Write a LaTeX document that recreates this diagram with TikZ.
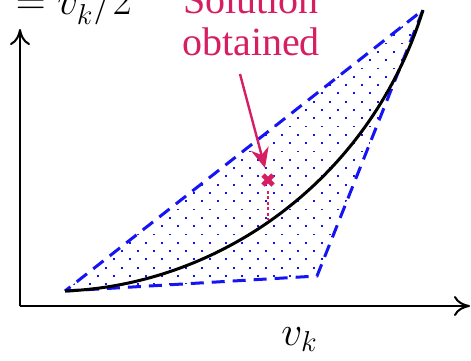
\documentclass[tikz,border=0pt]{standalone}
\usepackage{fontspec}
\setmainfont{Liberation Serif}
\usetikzlibrary{arrows.meta}
\definecolor{crim}{RGB}{214,30,98}
\definecolor{pblue}{RGB}{20,20,245}
\tikzset{
  axis/.style={line width=1pt,-{To[length=8pt,width=10pt,line width=1pt]}},
  bound/.style={pblue,line width=1.5pt,dash pattern=on 6.5pt off 4pt},
  curve/.style={black,line width=1.5pt},
  big/.style={font=\fontsize{20}{21}\selectfont,inner sep=0pt},
}
\begin{document}
\begin{tikzpicture}[x=0.5pt,y=-0.5pt]
\useasboundingbox (0,0) rectangle (471,360);
\clip (0,0) rectangle (471,360);
% region
\coordinate (A) at (65,291);
\coordinate (B) at (317,276);
\coordinate (C) at (423,10);
\begin{scope}
\clip (A) -- (B) -- (C) -- cycle;
\foreach \j in {0,...,40}{
  \foreach \i in {0,...,28}{
    \pgfmathsetmacro{\xx}{58+16*\i+8*mod(\j,2)}
    \pgfmathsetmacro{\yy}{2+8.3*\j}
    \fill[pblue] (\xx-0.9,\yy-0.9) rectangle (\xx+0.9,\yy+0.9);
  }
}
\end{scope}
\draw[bound] (A) -- (B) -- (C) -- cycle;
% axes
\coordinate (O) at (20,306);
\coordinate (Y) at (20,29);
\coordinate (X) at (470,306);
\draw[axis] (O) -- (Y);
\draw[axis] (O) -- (X);
% curve
\draw[curve] (A) .. controls (220,285) and (370,180) .. (C);
% solution
\coordinate (S) at (268,180);
\coordinate (P) at (268,220);
\draw[crim,line width=1.3pt,dash pattern=on 1.5pt off 1.2pt] (268,191) -- (P);
\draw[crim,line width=2.4pt] (263,175) -- (273,185) (263,185) -- (273,175);
\node[big,crim,align=center,anchor=base] (lbl) at (251,55) {Solution\\obtained};
\coordinate (T) at (240,74);
\coordinate (H) at (265,168);
\draw[crim,line width=1.2pt,-{Stealth[length=10pt,width=9pt]}] (T) -- (H);
% labels
\node[big,anchor=base west] (vk) at (281,345) {$v_k$};
\node[big,anchor=base east] (fy) at (132,14) {$=v_k^2/2$};
\end{tikzpicture}
\end{document}
